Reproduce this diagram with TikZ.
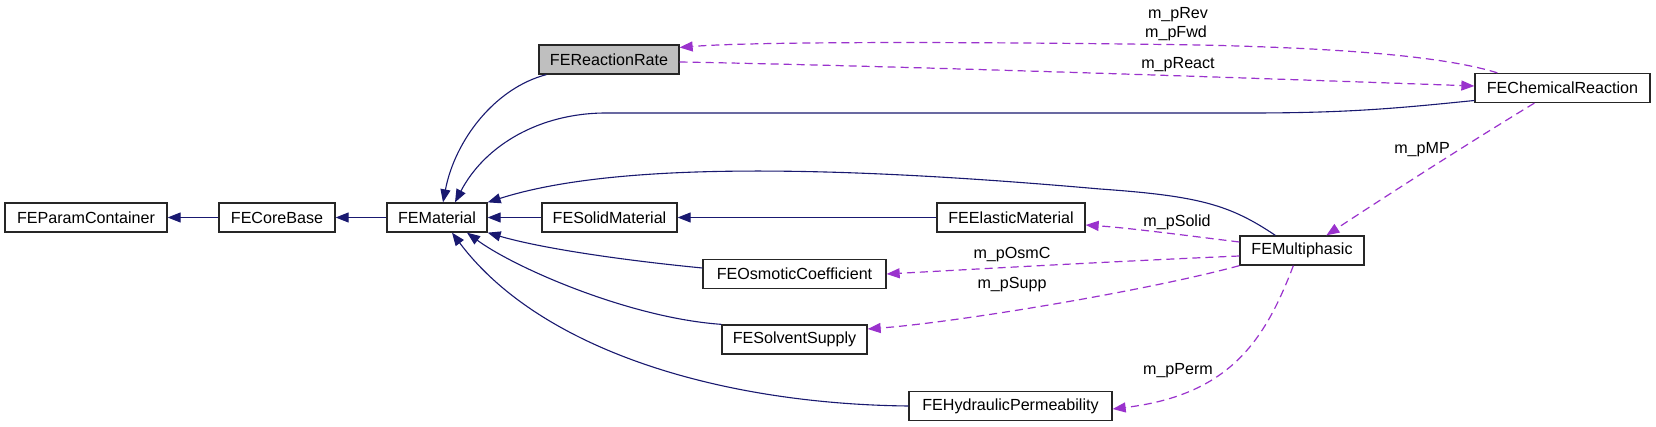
\documentclass[tikz,border=0pt]{standalone}
\usepackage{fontspec}
\setmainfont{Liberation Sans}
\usetikzlibrary{arrows.meta}
\definecolor{inhblue}{HTML}{191970}
\definecolor{usepurple}{HTML}{9A32CD}
\definecolor{boxgray}{HTML}{BFBFBF}
\tikzset{
  box/.style={draw=black!85, line width=1.3pt, fill=white, inner xsep=6pt, inner ysep=0pt,
    minimum height=29pt, font=\fontsize{16.1}{19}\selectfont, text=black},
  inh/.style={draw=inhblue, line width=1.1pt, -{Triangle[length=13pt,width=10pt]}},
  usedash/.style={draw=usepurple, line width=1.2pt, dash pattern=on 8pt off 5pt,
    -{Triangle[length=13pt,width=10pt]}},
  lbl/.style={font=\fontsize{16.1}{19}\selectfont, inner sep=0pt, anchor=base, text=black}
}
\begin{document}
\begin{tikzpicture}[x=1pt,y=-1pt]
\useasboundingbox[fill=white] (0,0) rectangle (1656,427);
% nodes
\node[box, minimum width=162pt] (PC) at (86,217.5) {FEParamContainer};
\node[box, minimum width=116pt] (CB) at (277,217.5) {FECoreBase};
\node[box, minimum width=100pt] (MAT) at (437,217.5) {FEMaterial};
\node[box, minimum width=140pt, fill=boxgray] (RR) at (609,59.5) {FEReactionRate};
\node[box, minimum width=175pt] (CR) at (1562.5,88) {FEChemicalReaction};
\node[box, minimum width=135pt] (SM) at (609.5,217.5) {FESolidMaterial};
\node[box, minimum width=148pt] (EM) at (1011,217.5) {FEElasticMaterial};
\node[box, minimum width=183pt] (OC) at (794.5,274) {FEOsmoticCoefficient};
\node[box, minimum width=145pt] (SS) at (794.5,339.5) {FESolventSupply};
\node[box, minimum width=124pt] (MP) at (1302,250.5) {FEMultiphasic};
\node[box, minimum width=203pt] (HP) at (1010.5,406) {FEHydraulicPermeability};
% inheritance
\draw[inh] (CB.west) -- (PC.east);
\draw[inh] (MAT.west) -- (CB.east);
\draw[inh] (SM.west) -- (MAT.east);
\draw[inh] (EM.west) -- (SM.east);
\draw[inh] ([xshift=8pt]RR.south west) .. controls (495,88) and (455,140) .. ([xshift=6pt]MAT.north);
\draw[inh] ([yshift=-12.5pt]CR.west) .. controls (1400,108) and (1350,113) .. (1250,113) -- (606,113) .. controls (540,113) and (485,145) .. ([xshift=18pt]MAT.north);
\draw[inh] ([xshift=36pt]MP.north west) .. controls (1230,205) and (1200,196) .. (1100,189) .. controls (850,167) and (620,160) .. (MAT.north east);
\draw[inh] ([yshift=6pt]OC.west) .. controls (620,260) and (540,248) .. (MAT.south east);
\draw[inh] (SS.north west) .. controls (630,318) and (515,268) .. ([xshift=30pt]MAT.south);
\draw[inh] (HP.west) .. controls (720,404) and (540,350) .. ([xshift=15pt]MAT.south);
% usage
\draw[usedash] ([xshift=23pt]CR.north west) .. controls (1440,55) and (1330,48) .. (1200,45) .. controls (1000,42) and (760,41) .. ([yshift=12pt]RR.east);
\draw[usedash] ([yshift=-2.5pt]RR.east) .. controls (900,66) and (1250,78) .. ([yshift=2pt]CR.west);
\draw[usedash] ([xshift=60pt]CR.south west) .. controls (1470,142) and (1380,200) .. ([xshift=87pt]MP.north west);
\draw[usedash] ([yshift=8.5pt]MP.west) .. controls (1190,236) and (1130,228) .. ([yshift=-7.5pt]EM.east);
\draw[usedash] ([yshift=-5.5pt]MP.west) .. controls (1100,262) and (960,270) .. (OC.east);
\draw[usedash] (MP.south west) .. controls (1150,290) and (960,322) .. ([yshift=10.5pt]SS.east);
\draw[usedash] ([xshift=54pt]MP.south west) .. controls (1265,340) and (1230,395) .. ([yshift=-3pt]HP.east);
% labels
\node[lbl] (lRev) at (1178,19) {m\_pRev};
\node[lbl] (lFwd) at (1176,38) {m\_pFwd};
\node[lbl] (lReact) at (1178,69) {m\_pReact};
\node[lbl] (lMP) at (1422,154) {m\_pMP};
\node[lbl] (lSolid) at (1177,227) {m\_pSolid};
\node[lbl] (lOsmC) at (1012,259) {m\_pOsmC};
\node[lbl] (lSupp) at (1012,289) {m\_pSupp};
\node[lbl] (lPerm) at (1178,374) {m\_pPerm};
\end{tikzpicture}
\end{document}
